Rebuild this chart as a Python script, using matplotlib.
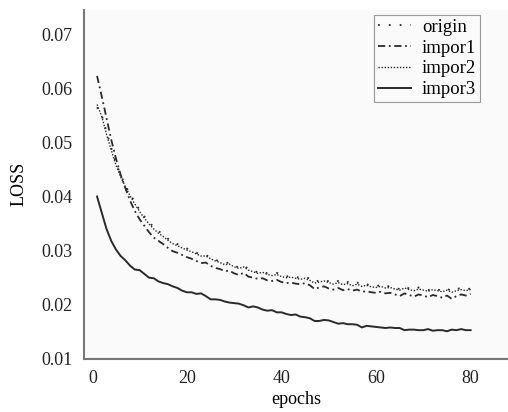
import matplotlib
matplotlib.use("Agg")
from matplotlib import pyplot as plt

epochs = list(range(1, 81))

origin = [0.0565, 0.0550, 0.0520, 0.0490, 0.0462, 0.0440, 0.0420, 0.0404, 0.0390, 0.0375,
          0.0363, 0.0353, 0.0343, 0.0336, 0.0330, 0.0322, 0.0316, 0.0312, 0.0307, 0.0304,
          0.0300, 0.0296, 0.0292, 0.0292, 0.0287, 0.0283, 0.0280, 0.0277, 0.0278, 0.0272,
          0.0269, 0.0273, 0.0266, 0.0263, 0.0260, 0.0262, 0.0258, 0.0257, 0.0259, 0.0255,
          0.0252, 0.0254, 0.0251, 0.0250, 0.0252, 0.0248, 0.0242, 0.0245, 0.0247, 0.0243,
          0.0240, 0.0244, 0.0239, 0.0242, 0.0238, 0.0241, 0.0236, 0.0238, 0.0235, 0.0234,
          0.0237, 0.0233, 0.0235, 0.0231, 0.0229, 0.0234, 0.0230, 0.0228, 0.0232, 0.0229,
          0.0227, 0.0231, 0.0228, 0.0226, 0.0230, 0.0225, 0.0229, 0.0231, 0.0228, 0.0230]

impor1 = [0.0623, 0.0585, 0.0545, 0.0505, 0.0470, 0.0440, 0.0415, 0.0392, 0.0373, 0.0358,
          0.0346, 0.0334, 0.0324, 0.0318, 0.0312, 0.0305, 0.0299, 0.0296, 0.0292, 0.0288,
          0.0285, 0.0281, 0.0277, 0.0278, 0.0272, 0.0268, 0.0266, 0.0262, 0.0263, 0.0258,
          0.0255, 0.0259, 0.0252, 0.0250, 0.0248, 0.0249, 0.0245, 0.0244, 0.0246, 0.0242,
          0.0240, 0.0241, 0.0239, 0.0238, 0.0240, 0.0236, 0.0229, 0.0232, 0.0234, 0.0230,
          0.0228, 0.0231, 0.0227, 0.0229, 0.0226, 0.0228, 0.0224, 0.0225, 0.0223, 0.0222,
          0.0224, 0.0221, 0.0222, 0.0219, 0.0216, 0.0221, 0.0218, 0.0215, 0.0219, 0.0217,
          0.0214, 0.0218, 0.0216, 0.0213, 0.0217, 0.0211, 0.0216, 0.0219, 0.0217, 0.0220]

impor2 = [0.0570, 0.0548, 0.0515, 0.0486, 0.0458, 0.0436, 0.0418, 0.0401, 0.0386, 0.0372,
          0.0360, 0.0349, 0.0340, 0.0332, 0.0326, 0.0319, 0.0313, 0.0309, 0.0305, 0.0301,
          0.0298, 0.0294, 0.0290, 0.0290, 0.0285, 0.0281, 0.0278, 0.0274, 0.0275, 0.0270,
          0.0267, 0.0270, 0.0264, 0.0261, 0.0258, 0.0260, 0.0256, 0.0254, 0.0256, 0.0252,
          0.0250, 0.0251, 0.0249, 0.0247, 0.0249, 0.0245, 0.0240, 0.0242, 0.0244, 0.0241,
          0.0238, 0.0241, 0.0237, 0.0239, 0.0235, 0.0238, 0.0234, 0.0236, 0.0233, 0.0232,
          0.0234, 0.0231, 0.0232, 0.0229, 0.0227, 0.0231, 0.0228, 0.0226, 0.0229, 0.0227,
          0.0225, 0.0228, 0.0226, 0.0224, 0.0227, 0.0223, 0.0226, 0.0228, 0.0226, 0.0228]

impor3 = [0.0400, 0.0370, 0.0340, 0.0318, 0.0302, 0.0290, 0.0282, 0.0272, 0.0265, 0.0264,
          0.0257, 0.0250, 0.0249, 0.0243, 0.0240, 0.0238, 0.0234, 0.0231, 0.0226, 0.0223,
          0.0223, 0.0220, 0.0221, 0.0216, 0.0210, 0.0210, 0.0209, 0.0206, 0.0204, 0.0203,
          0.0202, 0.0199, 0.0195, 0.0197, 0.0195, 0.0191, 0.0189, 0.0190, 0.0186, 0.0186,
          0.0183, 0.0181, 0.0182, 0.0178, 0.0177, 0.0175, 0.0170, 0.0170, 0.0172, 0.0171,
          0.0168, 0.0165, 0.0166, 0.0164, 0.0164, 0.0163, 0.0158, 0.0161, 0.0160, 0.0159,
          0.0158, 0.0157, 0.0158, 0.0157, 0.0157, 0.0153, 0.0154, 0.0154, 0.0153, 0.0153,
          0.0155, 0.0152, 0.0153, 0.0153, 0.0151, 0.0154, 0.0153, 0.0155, 0.0153, 0.0153]

y_ticks = [0.01, 0.02, 0.03, 0.04, 0.05, 0.06, 0.07]
x_ticks = [0, 20, 40, 60, 80]

plt.rcParams["font.family"] = ["Liberation Serif", "DejaVu Serif"]
plt.rcParams["font.size"] = 13

fig = plt.figure(figsize=(5.08, 4.12), dpi=100)
ax = fig.add_axes([0.165, 0.129, 0.835, 0.847])
ax.set_facecolor("#fafafa")

line_col = "#2a2a2a"
ax.plot(epochs, origin, color=line_col, lw=1.3, linestyle=(0, (1, 5)), label="origin")
ax.plot(epochs, impor1, color=line_col, lw=1.3, linestyle=(0, (4, 2, 1, 2)), label="impor1")
ax.plot(epochs, impor2, color=line_col, lw=1.0, linestyle=(0, (1, 1.2)), label="impor2")
ax.plot(epochs, impor3, color=line_col, lw=1.4, linestyle="-", label="impor3")

ax.set_xlim(-1.8, 87.9)
ax.set_ylim(0.0107, 0.0745)
ax.set_xticks(x_ticks)
ax.set_yticks(y_ticks)
ax.set_yticklabels([f"{v:.2f}" for v in y_ticks])
ax.tick_params(length=0, pad=8, labelsize=13, colors="#222222")
ax.tick_params(axis="x", pad=8)

for side in ["top", "right"]:
    ax.spines[side].set_visible(False)
for side in ["left", "bottom"]:
    ax.spines[side].set_color("#777777")
    ax.spines[side].set_linewidth(1.5)

ax.set_xlabel("epochs", fontsize=13, labelpad=3)
ax.set_ylabel("LOSS", fontsize=13, labelpad=10)

leg = ax.legend(loc="upper right", bbox_to_anchor=(0.934, 0.986), borderaxespad=0,
                frameon=True, fancybox=False,
                edgecolor="#999999", framealpha=1, facecolor="#fafafa",
                handlelength=1.75, handletextpad=0.6, borderpad=0.2, labelspacing=0.2,
                fontsize=13.5)
leg.get_frame().set_linewidth(0.8)

fig.savefig("out.png", dpi=100, facecolor="white")
